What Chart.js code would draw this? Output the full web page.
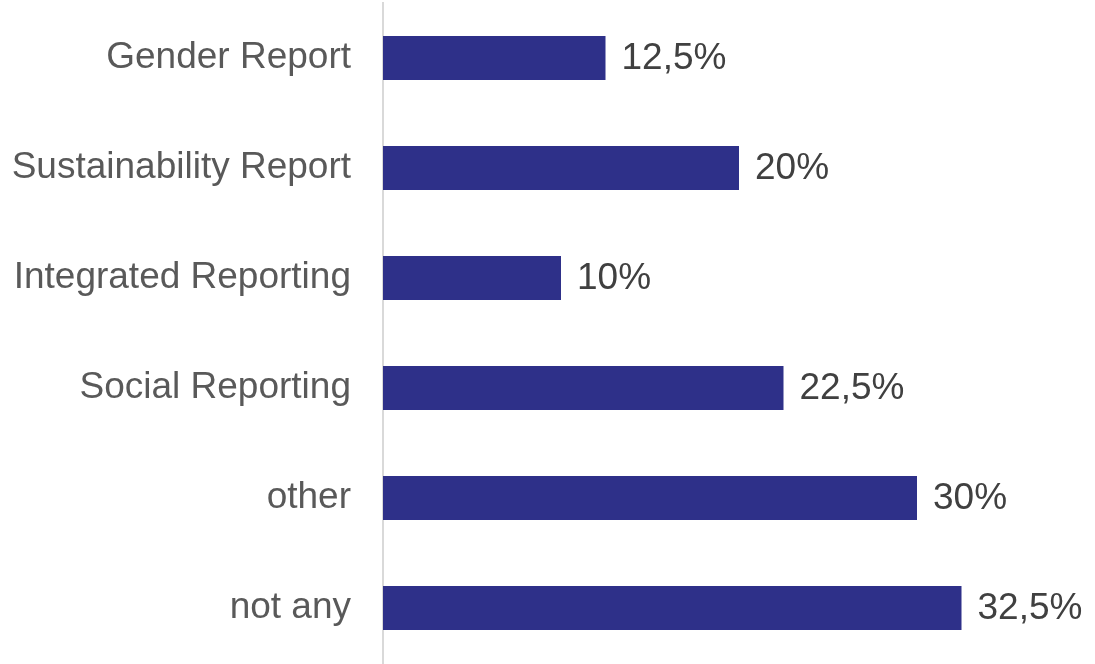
<!DOCTYPE html>
<html>
<head>
<meta charset="utf-8">
<script src="https://cdn.jsdelivr.net/npm/chart.js@4"></script>
<style>
  html, body { margin: 0; padding: 0; background: #fff; }
  #wrap { width: 1095px; height: 664px; }
</style>
</head>
<body>
<div id="wrap"><canvas id="chart1"></canvas></div>
<script>
const categories = ['Gender Report', 'Sustainability Report', 'Integrated Reporting', 'Social Reporting', 'other', 'not any'];
const shares = [12.5, 20, 10, 22.5, 30, 32.5];

const fmt = v => String(v).replace('.', ',') + '%';

// draws the value next to the end of each bar
const barValues = {
    id: 'barValues',
    afterDatasetsDraw(chart) {
        const ctx = chart.ctx;
        ctx.save();
        ctx.font = '37px "Liberation Sans", Arial, sans-serif';
        ctx.fillStyle = '#404040';
        ctx.textAlign = 'left';
        ctx.textBaseline = 'middle';
        chart.getDatasetMeta(0).data.forEach((bar, i) => {
            ctx.fillText(fmt(shares[i]), bar.x + 16, bar.y + 1);
        });
        ctx.restore();
    }
};

const config = {
    type: 'bar',
    data: {
        labels: categories,
        datasets: [{
            data: shares,
            backgroundColor: '#2E3089',
            borderWidth: 0,
            barPercentage: 0.4,
            categoryPercentage: 1
        }]
    },
    options: {
        indexAxis: 'y',
        responsive: true,
        maintainAspectRatio: false,
        animation: false,
        layout: {
            padding: { top: 3, bottom: 1, left: 0, right: 0 }
        },
        plugins: {
            legend: { display: false },
            tooltip: { enabled: false }
        },
        scales: {
            x: {
                display: false,
                min: 0,
                max: 40
            },
            y: {
                grid: { display: false, drawTicks: false },
                border: { display: true, color: '#D9D9D9', width: 2 },
                ticks: {
                    color: '#595959',
                    padding: 32,
                    font: { family: '"Liberation Sans", Arial, sans-serif', size: 37 }
                },
                afterFit: axis => {
                    axis.width = 383;
                    axis.paddingTop = 0;
                    axis.paddingBottom = 0;
                }
            }
        }
    },
    plugins: [barValues]
};

const ctx1 = document.getElementById('chart1').getContext('2d');
const chart1 = new Chart(ctx1, config);
</script>
</body>
</html>
